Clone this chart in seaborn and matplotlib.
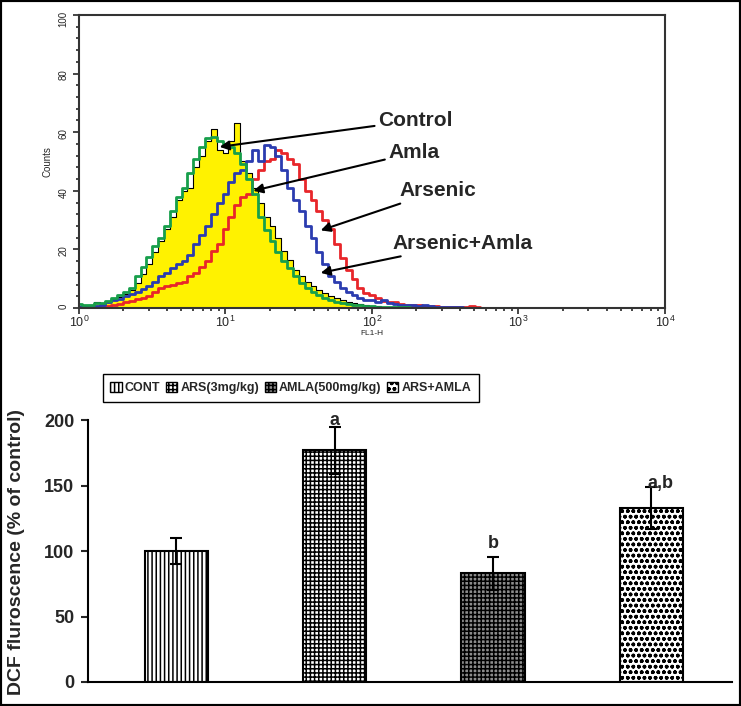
import numpy as np
import pandas as pd
import matplotlib
matplotlib.use("Agg")
import matplotlib.pyplot as plt
from matplotlib.patches import Patch, Rectangle
from matplotlib.ticker import MultipleLocator, LogLocator, NullFormatter
import seaborn as sns

# -------------------------------
# Flow cytometry histogram data (counts per log channel, 0.04 decade apart)
# -------------------------------
log_fl = np.arange(0, 4.0, 0.04)

control = [0.8, 0.6, 1.0, 2.0, 1.4, 2.2, 3.0, 3.6, 4.8, 6.0,
           8.5, 11.5, 15, 19, 23, 27, 31, 37, 40, 41,
           48, 52, 57, 61, 54, 53, 57, 63, 50, 46,
           41, 36, 31, 28, 24, 19.5, 16.5, 13, 11, 9,
           7.5, 6, 5, 4, 3.4, 2.8, 2.2, 1.8, 1.4, 1.0,
           0.8, 0.6, 0.5, 0.4, 0.3, 0.3, 0.2, 0.2, 0.1, 0.1]

amla = [1.5, 1.2, 1.0, 1.6, 1.8, 2.5, 3.5, 4.5, 5.5, 7.0,
        11, 14, 17.5, 21, 24, 28, 33, 38, 41, 46,
        51, 55, 58, 58.5, 57, 56, 55, 53, 49, 44,
        39, 31, 26.5, 23, 19, 16, 13.5, 11, 8.5, 7,
        5.5, 4.5, 3.5, 2.8, 2.2, 1.8, 1.5, 1.2, 1.0, 0.8,
        0.6, 0.5, 0.4, 0.3, 0.3, 0.2, 0.2, 0.1]

arsenic_amla = [0.5, 0.3, 0.5, 0.8, 1.2, 2.0, 2.6, 3.2, 4.0, 4.8,
                5.5, 6.5, 7.5, 9, 11, 12, 13.5, 15, 16, 18,
                22, 25, 28, 32, 36, 39, 43, 46, 47, 50,
                54, 50, 55.5, 55, 52, 47, 41, 37, 33, 28,
                24, 19, 15, 11, 9, 7, 5.5, 4.5, 3.5, 2.8,
                2.6, 2.2, 2.6, 1.8, 1.5, 1.2, 1.0, 1.2, 0.8, 1.0,
                0.7, 0.5, 0.4, 0.3, 0.2, 0.2, 0.1]

arsenic = [0.3, 0.3, 0.3, 0.4, 0.6, 0.8, 1.0, 1.5, 2.0, 2.3,
           3.0, 3.5, 4.0, 5.5, 7.0, 7.5, 8.0, 8.5, 9.0, 11,
           12, 14, 16, 19.5, 22, 27, 31, 35, 38, 39,
           44, 47, 50, 51, 54, 53, 51, 49, 44, 40,
           37, 33, 30, 27, 22, 17, 13, 10, 7, 5,
           4.5, 3.5, 2.5, 2.2, 2.0, 1.5, 1.0, 1.2, 1.0, 0.6,
           0.8, 0.6, 0.4, 0.4, 0.3, 0.3, 0.5, 0.8, 0.2]

# -------------------------------
# DCF bar chart data
# -------------------------------
groups = ["CONT", "ARS(3mg/kg)", "AMLA(500mg/kg)", "ARS+AMLA"]
dcf_mean = [100, 177, 83, 133]
dcf_err = [10, 18, 12.5, 16]
letters = ["", "a", "b", "a,b"]


def pad(vals):
    return np.pad(np.array(vals, dtype=float), (0, len(log_fl) - len(vals)))


sns.set_style("ticks")
plt.rcParams["font.family"] = ["Liberation Sans", "DejaVu Sans"]
plt.rcParams["hatch.linewidth"] = 1.1

fig = plt.figure(figsize=(7.41, 7.06), dpi=100)

# -------------------------------
# Top: histogram
# -------------------------------
ax1 = fig.add_axes([0.1066, 0.5637, 0.7908, 0.4151])
fl = 10 ** log_fl

ax1.fill_between(fl, pad(control), step="mid", color="#fff200", lw=0)
curves = [(control, "black", 0.8), (arsenic, "#e8262a", 2.0),
          (arsenic_amla, "#2b3cb0", 2.0), (amla, "#179f4b", 2.0)]
for vals, col, lw in curves:
    sns.lineplot(x=fl, y=pad(vals), color=col, lw=lw, drawstyle="steps-mid",
                 estimator=None, ax=ax1)

ax1.set_xscale("log")
ax1.set_xlim(1, 1e4)
ax1.set_ylim(0, 100)
ax1.yaxis.set_major_locator(MultipleLocator(20))
ax1.yaxis.set_minor_locator(MultipleLocator(4))
ax1.xaxis.set_major_locator(LogLocator(base=10))
ax1.xaxis.set_minor_locator(LogLocator(base=10, subs=np.arange(2, 10)))
ax1.xaxis.set_minor_formatter(NullFormatter())
ax1.tick_params(axis="y", which="both", direction="out", labelsize=7,
                labelrotation=90, width=1.2)
ax1.tick_params(axis="x", which="both", direction="out", labelsize=9,
                pad=1, width=1.2)
ax1.tick_params(which="major", length=4)
ax1.tick_params(which="minor", length=2.5)
for s in ax1.spines.values():
    s.set_linewidth(1.5)
    s.set_color("#333333")
ax1.set_xlabel("FL1-H", fontsize=6, labelpad=0)
ax1.set_ylabel("Counts", fontsize=7)
ax1.yaxis.set_label_coords(-0.045, 0.5)

arrow = dict(arrowstyle="-|>", color="black", lw=1.5, mutation_scale=14,
             shrinkA=0, shrinkB=0)
label_kw = dict(fontsize=15, fontweight="bold", ha="left", va="center")
ax1.annotate("Control", xy=(10 ** 0.96, 55), xytext=(10 ** 2.04, 64),
             arrowprops=arrow, **label_kw)
ax1.annotate("Amla", xy=(10 ** 1.19, 40), xytext=(10 ** 2.11, 53),
             arrowprops=arrow, **label_kw)
ax1.annotate("Arsenic", xy=(10 ** 1.65, 26.5), xytext=(10 ** 2.19, 40),
             arrowprops=arrow, **label_kw)
ax1.annotate("Arsenic+Amla", xy=(10 ** 1.65, 12), xytext=(10 ** 2.14, 22),
             arrowprops=arrow, **label_kw)

# -------------------------------
# Bottom: DCF fluorescence bars
# -------------------------------
ax2 = fig.add_axes([0.1188, 0.034, 0.869, 0.371])
bars = pd.DataFrame({"group": groups, "dcf": dcf_mean})
sns.barplot(data=bars, x="group", y="dcf", color="white", edgecolor="black",
            linewidth=1.5, width=0.4, ax=ax2)

hatches = ["||||", "++++", "++++", "ooo"]
faces = ["white", "white", "#8c8c8c", "white"]
for patch, h, fc in zip(ax2.patches, hatches, faces):
    patch.set_hatch(h)
    patch.set_facecolor(fc)

pos = np.arange(len(groups))
ax2.errorbar(pos, dcf_mean, yerr=dcf_err, fmt="none", ecolor="black",
             elinewidth=1.5, capsize=4.5, capthick=1.5)
# letters sit right on top of the error bars, as in the original
offsets = [0, -2, 4, -4]
for x, m, e, t, o in zip(pos, dcf_mean, dcf_err, letters, offsets):
    if t:
        ax2.text(x + (0.06 if "," in t else 0), m + e + o, t, ha="center",
                 va="bottom", fontsize=13, fontweight="bold")

ax2.set_xlim(-0.557, 3.51)
ax2.set_ylim(0, 200)
ax2.yaxis.set_major_locator(MultipleLocator(50))
ax2.set_xticks([])
ax2.set_xlabel("")
ax2.set_ylabel("DCF fluroscence (% of control)", fontsize=14,
               fontweight="bold")
ax2.yaxis.set_label_coords(-0.098, 0.496)
ax2.tick_params(axis="y", direction="out", length=5, width=1.5, pad=5,
                labelsize=13)
for lab in ax2.get_yticklabels():
    lab.set_fontweight("bold")
sns.despine(ax=ax2)
for s in ["left", "bottom"]:
    ax2.spines[s].set_linewidth(1.5)
    ax2.spines[s].set_color("black")

handles = [Patch(facecolor=fc, edgecolor="black", hatch=h, lw=1)
           for h, fc in zip(hatches, faces)]
fig.legend(handles, groups, ncol=4, loc="lower left",
           bbox_to_anchor=(0.139, 0.4306), borderaxespad=0, frameon=True,
           fancybox=False, edgecolor="black", framealpha=1,
           handlelength=0.9, handleheight=0.9, handletextpad=0.25,
           columnspacing=0.45, borderpad=0.6,
           prop={"weight": "bold", "size": 9})

fig.patches.append(Rectangle((0, 0), 1, 1, transform=fig.transFigure,
                             fill=False, lw=3, ec="black"))

plt.savefig("out.png", dpi=100)
